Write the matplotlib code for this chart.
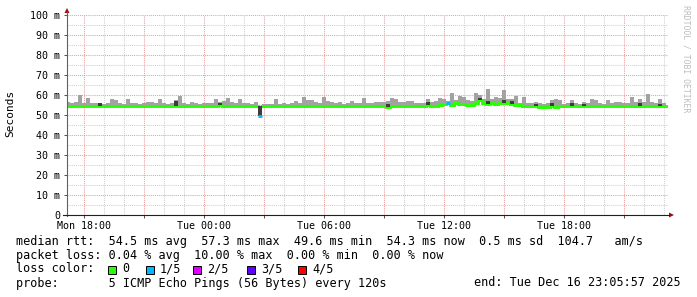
import matplotlib
matplotlib.use('Agg')
import matplotlib.pyplot as plt
import numpy as np
from matplotlib.patches import Rectangle, Polygon
from matplotlib.lines import Line2D

# ---------------- data (ms) ----------------
t_start = 17.1          # hours since Mon 00:00 (Mon 17:06)
t_step = 0.2            # 12-minute buckets

median = [
    54.4, 54.6, 54.4, 54.4, 54.5, 54.4, 54.6, 54.4, 54.3, 54.5,
    54.4, 54.4, 54.6, 54.4, 54.3, 54.5, 54.4, 54.4, 54.6, 54.4,
    54.4, 54.4, 54.5, 54.6, 54.4, 54.4, 54.3, 54.5, 54.7, 54.4,
    54.4, 54.5, 54.4, 54.4, 54.6, 54.4, 54.4, 54.5, 54.8, 54.6,
    54.5, 54.4, 54.4, 54.6, 54.4, 54.5, 54.4, 54.4, 49.6, 54.3,
    54.4, 54.4, 54.5, 54.4, 54.4, 54.6, 54.4, 54.4, 54.5, 54.4,
    54.6, 54.5, 54.4, 54.4, 54.5, 54.6, 54.4, 54.4, 54.5, 54.4,
    54.4, 54.5, 54.4, 54.4, 54.6, 54.4, 54.3, 54.4, 54.4, 54.5,
    54.0, 54.6, 54.5, 54.4, 54.4, 54.6, 54.5, 54.4, 54.4, 54.5,
    55.2, 54.6, 54.5, 54.8, 55.5, 55.8, 55.0, 56.0, 55.5, 55.3,
    54.8, 54.9, 56.0, 57.3, 56.0, 55.5, 56.2, 55.5, 55.8, 56.0,
    55.8, 55.5, 55.0, 54.8, 54.6, 54.5, 54.4, 54.5, 54.2, 54.2,
    54.2, 54.3, 54.2, 54.3, 54.4, 54.4, 54.6, 54.4, 54.4, 54.5,
    54.4, 54.6, 54.4, 54.4, 54.5, 54.4, 54.4, 54.5, 54.4, 54.4,
    54.5, 54.4, 54.5, 54.6, 54.4, 54.6, 54.4, 54.4, 54.5, 54.4,
]

smoke_max = [
    56.3, 56.0, 56.5, 59.8, 56.0, 58.3, 56.0, 55.8, 56.0, 55.6,
    55.8, 58.0, 57.3, 56.0, 55.6, 57.8, 56.2, 56.2, 55.6, 55.8,
    56.5, 56.5, 56.0, 58.2, 55.8, 55.6, 56.0, 57.3, 59.7, 56.0,
    55.6, 56.5, 55.8, 55.6, 56.0, 56.2, 56.0, 57.8, 56.5, 57.0,
    58.3, 56.5, 56.0, 58.2, 56.0, 56.0, 55.6, 56.3, 54.3, 55.6,
    55.4, 55.4, 57.8, 55.6, 56.2, 55.6, 56.0, 57.0, 56.0, 59.2,
    57.5, 57.5, 56.5, 56.0, 59.0, 57.0, 56.5, 55.8, 56.3, 55.6,
    56.2, 56.8, 56.0, 55.8, 58.3, 56.0, 55.8, 56.3, 56.5, 56.5,
    56.8, 58.3, 58.0, 56.5, 56.5, 57.0, 57.0, 56.0, 56.0, 56.2,
    57.8, 56.5, 57.0, 58.3, 57.8, 57.0, 60.8, 57.5, 59.7, 59.0,
    57.5, 57.0, 61.0, 60.0, 58.0, 63.0, 58.0, 59.0, 58.5, 62.5,
    57.8, 58.0, 59.7, 56.2, 59.0, 56.0, 55.8, 56.3, 55.8, 55.6,
    56.0, 57.3, 57.8, 57.3, 55.6, 55.8, 57.3, 56.0, 55.6, 56.3,
    56.0, 58.2, 57.3, 56.0, 55.6, 57.5, 55.8, 56.5, 56.5, 55.8,
    56.0, 59.0, 56.5, 58.0, 56.3, 60.3, 56.5, 55.8, 57.8, 56.0,
]

dark_idx = [8, 27, 38, 48, 80, 90, 103, 105, 109, 111, 117, 121, 126, 129, 143, 148]
dark_top = [55.8, 57.0, 55.8, 54.3, 55.5, 56.5, 58.5, 57.0, 57.5, 56.8, 55.6, 55.8, 55.8, 55.4, 56.0, 55.6]

loss_idx = [48, 95]
loss_col = ['#00b8ff', '#00b8ff']

y_ticks = list(range(0, 101, 10))
y_labels = ['0'] + [f'{v} m' for v in y_ticks[1:]]
x_label_hours = [18, 24, 30, 36, 42]
x_labels = ['Mon 18:00', 'Tue 00:00', 'Tue 06:00', 'Tue 12:00', 'Tue 18:00']

legend_lines = [
    'median rtt:  54.5 ms avg  57.3 ms max  49.6 ms min  54.3 ms now  0.5 ms sd  104.7   am/s',
    'packet loss: 0.04 % avg  10.00 % max  0.00 % min  0.00 % now',
]
loss_names = ['0', '1/5', '2/5', '3/5', '4/5']
loss_colors = ['#26ff00', '#00b8ff', '#dd00ff', '#6000ff', '#ff0000']
probe_text = 'probe:       5 ICMP Echo Pings (56 Bytes) every 120s'
end_text = 'end: Tue Dec 16 23:05:57 2025'

# ---------------- figure ----------------
W, H = 697, 297
MONO = 'DejaVu Sans Mono'
fig = plt.figure(figsize=(W / 100, H / 100), dpi=100)
fig.patch.set_facecolor('white')

def fx(x):
    return x / W

def fy(y):
    return 1 - y / H

ax = fig.add_axes([fx(67), fy(215), (668 - 67) / W, 200 / H])
ax.set_facecolor('white')

n = len(median)
edges = t_start + t_step * np.arange(n + 1)
med_s = np.append(median, median[-1])
max_s = np.append(smoke_max, smoke_max[-1])

# median line with loss buckets cut out (they get their own colour)
med_line = np.ma.array(med_s, mask=np.zeros(n + 1, dtype=bool))
for i in loss_idx:
    med_line.mask[i] = True

ax.fill_between(edges, med_s, max_s, step='post', color='#a2a2a2', lw=0, zorder=2)
ax.step(edges, med_line, where='post', color='#26ff00', lw=2.1, zorder=3,
        solid_joinstyle='miter')
for i, top in zip(dark_idx, dark_top):
    ax.fill_between([edges[i], edges[i + 1]], [median[i]] * 2, [top] * 2,
                    color='#3c3c3c', lw=0, zorder=4)
for i, c in zip(loss_idx, loss_col):
    ax.plot([edges[i], edges[i + 1]], [median[i]] * 2, color=c, lw=2.1, zorder=5,
            solid_capstyle='butt')

ax.set_xlim(17.15, 47.2)
ax.set_ylim(0, 100)

# grid via ticks
ax.set_yticks(y_ticks)
ax.set_yticklabels(y_labels)
ax.set_yticks(np.arange(5, 100, 10), minor=True)
maj_x = np.arange(18, 47, 3)
ax.set_xticks(maj_x)
ax.set_xticklabels([x_labels[x_label_hours.index(h)] if h in x_label_hours else ''
                    for h in maj_x])
ax.set_xticks(np.arange(18, 48, 1), minor=True)

ax.grid(which='major', color='#e6a0a0', linestyle=(0, (1, 1)), lw=0.75, zorder=1)
ax.grid(which='minor', color='#d0d0d0', linestyle=(0, (1, 1)), lw=0.75, zorder=1)
ax.set_axisbelow(True)

ax.tick_params(axis='y', which='major', length=2.5, pad=2.5, width=0.75,
               color='#555555', labelsize=7.2)
ax.tick_params(axis='y', which='minor', length=0)
ax.tick_params(axis='x', which='major', length=2, pad=2, width=0.75,
               color='#555555', labelsize=7.2)
ax.tick_params(axis='x', which='minor', length=0)
for lab in ax.get_xticklabels() + ax.get_yticklabels():
    lab.set_family(MONO)

for s in ax.spines.values():
    s.set_visible(False)

# axis lines + arrows
fig.add_artist(Line2D([fx(67), fx(67)], [fy(215.5), fy(12)], color='#606060', lw=0.8))
fig.add_artist(Line2D([fx(63), fx(669)], [fy(215), fy(215)], color='#202020', lw=0.8))
fig.add_artist(Polygon([(fx(64.5), fy(13)), (fx(69.5), fy(13)), (fx(67), fy(8))],
                       closed=True, color='#9a1010', lw=0))
fig.add_artist(Polygon([(fx(669), fy(212.5)), (fx(669), fy(217.5)), (fx(674), fy(215))],
                       closed=True, color='#9a1010', lw=0))

fig.text(fx(10), fy(113), 'Seconds', rotation=90, family=MONO, fontsize=8,
         ha='center', va='center')
fig.text(fx(686), fy(5), 'RRDTOOL / TOBI OETIKER', rotation=270, family=MONO,
         fontsize=5.9, color='#bdbdbd', ha='center', va='top')

# legend
fs = 8.5
fig.text(fx(16), fy(241), legend_lines[0], family=MONO, fontsize=fs, va='center')
fig.text(fx(16), fy(255), legend_lines[1], family=MONO, fontsize=fs, va='center')
fig.text(fx(16), fy(269), 'loss color:', family=MONO, fontsize=fs, va='center')
box_x = [108, 146, 193, 247, 298]
for bx, c, nm in zip(box_x, loss_colors, loss_names):
    fig.add_artist(Rectangle((fx(bx), fy(273.5)), 8 / W, 8 / H, facecolor=c,
                             edgecolor='black', lw=0.7))
    fig.text(fx(bx + 14), fy(269), nm, family=MONO, fontsize=fs, va='center')
fig.text(fx(16), fy(283), probe_text, family=MONO, fontsize=fs, va='center')
fig.text(fx(681), fy(283), end_text, family=MONO, fontsize=fs, va='center', ha='right')

fig.savefig('out.png', dpi=100, facecolor='white')
